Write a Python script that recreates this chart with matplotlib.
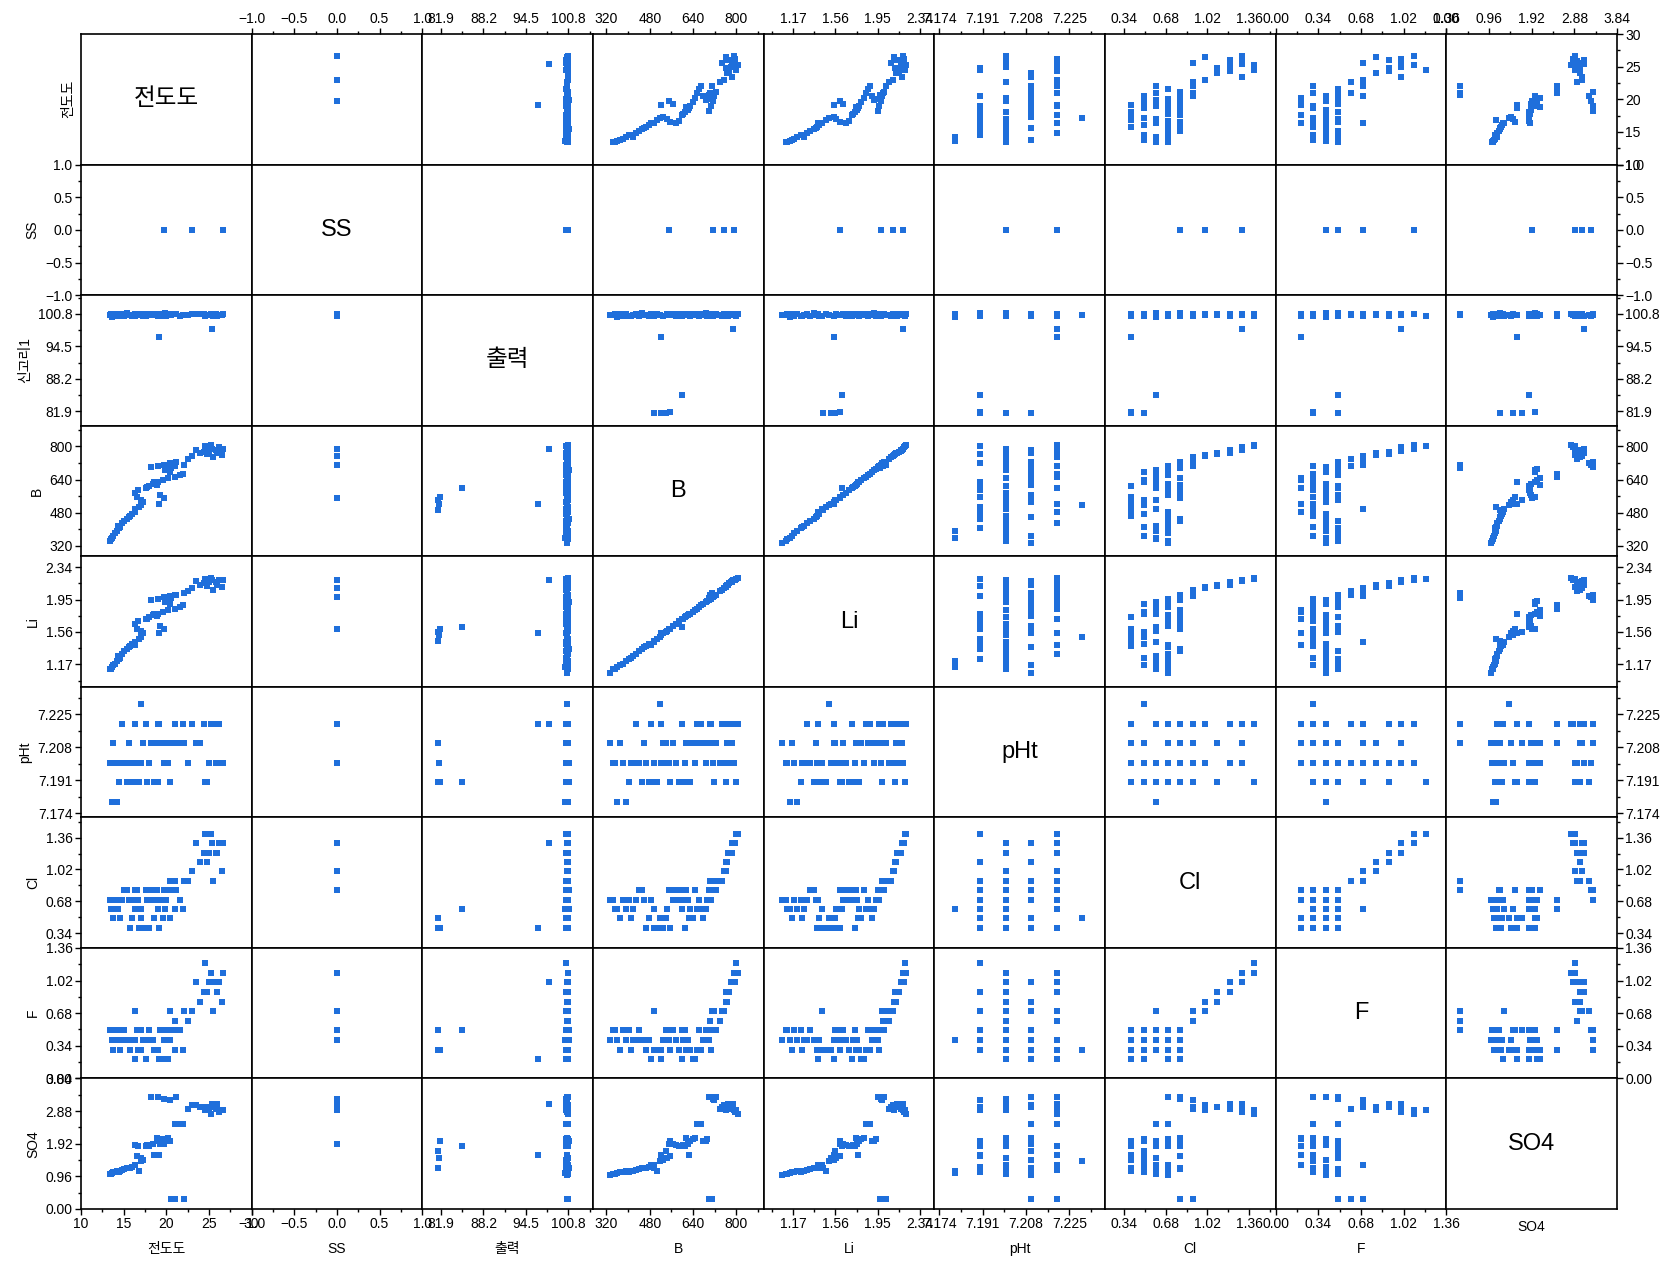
import numpy as np
import matplotlib
matplotlib.use("Agg")
import matplotlib.pyplot as plt
from matplotlib.ticker import MultipleLocator

plt.rcParams['font.family'] = ['Liberation Sans', 'Noto Sans CJK KR']

nan = np.nan

# variable names (diagonal), axis labels
names = ['전도도', 'SS', '출력', 'B', 'Li', 'pHt', 'Cl', 'F', 'SO4']
ylabels = ['전도도', 'SS', '신고리1', 'B', 'Li', 'pHt', 'Cl', 'F', 'SO4']
xlabels = ['전도도', 'SS', '출력', 'B', 'Li', 'pHt', 'Cl', 'F', 'SO4']

# one entry per sample
cond = [13.4, 13.6, 13.8, 14.0, 14.2, 14.5, 14.3, 14.8, 15.1, 15.4,
        15.8, 16.0, 16.3, 16.4, 16.8, 17.1, 17.3, 17.0, 16.6, 19.1,
        19.8, 19.3, 16.4, 16.7, 17.6, 18.0, 18.4, 19.0, 19.6, 20.2,
        21.0, 21.6, 22.0, 20.5, 19.9, 18.6,
        18.2, 19.0, 19.8, 20.5, 21.2, 20.6, 21.0, 22.1,
        22.6, 25.5, 23.0, 26.5, 24.0, 26.0, 24.4, 25.0, 23.5, 26.6,
        26.2, 24.5, 25.3, 25.4,
        nan, nan, nan, nan, nan,
        13.5, 14.6, 15.6, 17.8, 18.9, 20.0, 24.8, 25.8, nan]
ss = [nan] * 20 + [0.0] + [nan] * 17 + [0.0] + [nan] * 7 + [0.0] + [nan] * 6 + [0.0] + [nan] * 18
output = [100.6, 100.3, 100.7, 100.5, 100.8, 100.4, 100.6, 100.7, 100.5, 100.9,
          100.6, 100.4, 100.7, 100.5, 100.8, 100.6, 100.5, 100.7, 100.6, 96.3,
          100.6, 100.7, 100.5, 100.8, 100.4, 100.6, 100.7, 100.5, 100.8, 100.6,
          100.7, 100.5, 100.6, 100.7, 100.9, 100.6,
          100.6, 100.7, 100.5, 100.6, 100.7, 100.6, 100.7, 100.6,
          100.6, 100.5, 100.7, 100.6, 100.8, 100.5, 100.7, 100.6, 100.7, 100.8,
          100.6, 100.5, 100.7, 97.9,
          81.5, 81.6, 81.5, 81.7, 85.0,
          100.7, 100.5, 100.6, 100.7, 100.6, 100.5, 100.6, 100.7, 100.6]
boron = [345, 358, 370, 380, 392, 405, 418, 430, 442, 452,
         465, 476, 486, 497, 508, 518, 530, 542, 556, 521,
         552, 566, 576, 588, 598, 610, 620, 630, 638, 646,
         654, 660, 668, 678, 688, 626,
         700, 706, 712, 718, 726, 698, 704, 710,
         740, 748, 754, 760, 766, 770, 774, 778, 784, 790,
         796, 800, 806, 788,
         495, 520, 540, 556, 600,
         352, 412, 460, 602, 615, 692, 762, 782, 332]
li = [1.11, 1.14, 1.16, 1.18, 1.21, 1.24, 1.27, 1.30, 1.33, 1.36,
      1.39, 1.41, 1.40, 1.44, 1.47, 1.50, 1.55, 1.57, 1.60, 1.55,
      1.60, 1.63, 1.66, 1.69, 1.71, 1.74, 1.76, 1.78, 1.80, 1.82,
      1.84, 1.86, 1.88, 1.90, 1.92, 1.77,
      1.95, 1.96, 1.98, 1.99, 2.01, 1.97, 2.00, 2.03,
      2.05, 2.07, 2.09, 2.10, 2.12, 2.13, 2.15, 2.16, 2.17, 2.18,
      2.19, 2.20, 2.21, 2.18,
      1.45, 1.52, 1.56, 1.60, 1.62,
      1.12, 1.25, 1.38, 1.72, 1.75, 1.93, 2.11, 2.16, 1.07]
pht = [7.20, 7.18, 7.21, 7.20, 7.18, 7.19, 7.20, 7.22, 7.20, 7.19,
       7.20, 7.19, 7.22, 7.20, 7.19, 7.23, 7.21, 7.20, 7.19, 7.22,
       7.20, 7.21, 7.20, 7.19, 7.22, 7.20, 7.21, 7.19, 7.21, 7.20,
       7.22, 7.21, 7.22, 7.21, 7.20, 7.19,
       7.21, 7.22, 7.20, 7.19, 7.21, 7.21, 7.22, 7.21,
       7.20, 7.22, 7.22, 7.20, 7.21, 7.20, 7.22, 7.20, 7.21, 7.20,
       7.22, 7.19, 7.22, 7.22,
       7.19, 7.20, 7.21, 7.19, 7.19,
       7.20, 7.20, 7.21, 7.19, 7.21, 7.21, 7.19, 7.20, 7.21]
cl = [0.7, 0.6, 0.5, 0.7, 0.6, 0.7, 0.6, 0.7, 0.8, 0.8,
      0.4, 0.5, 0.7, 0.6, 0.4, 0.5, 0.4, 0.6, 0.8, 0.4,
      0.8, 0.7, 0.8, 0.7, 0.8, 0.4, 0.7, 0.6, 0.5, 0.8,
      0.6, 0.7, 0.6, 0.5, 0.6, 0.5,
      0.8, 0.7, 0.8, 0.9, 0.8, 0.8, 0.9, 0.9,
      0.9, 0.9, 1.0, 1.0, 1.1, 1.2, 1.2, 1.2, 1.3, 1.3,
      1.3, 1.4, 1.4, 1.3,
      0.4, 0.4, 0.5, 0.4, 0.6,
      0.6, 0.5, 0.7, 0.7, 0.8, 0.7, 1.1, 1.2, 0.7]
fl = [0.5, 0.4, 0.3, 0.5, 0.4, 0.5, 0.4, 0.4, 0.5, 0.4,
      0.3, 0.4, 0.2, 0.7, 0.3, 0.3, 0.4, 0.5, 0.5, 0.2,
      0.4, 0.5, 0.4, 0.3, 0.2, 0.5, 0.4, 0.3, 0.2, 0.2,
      0.3, 0.5, 0.3, 0.4, 0.5, 0.3,
      0.4, 0.3, 0.5, 0.7, 0.5, 0.5, 0.6, 0.7,
      0.6, 0.7, 0.7, 0.8, 0.8, 0.9, 0.9, 1.0, 1.0, 1.1,
      1.0, 1.2, 1.1, 1.0,
      0.3, 0.3, 0.5, 0.3, 0.5,
      0.5, 0.3, 0.4, 0.4, 0.3, 0.4, 0.9, 1.0, 0.4]
so4 = [1.02, 1.05, 1.08, 1.10, 1.12, 1.10, 1.13, 1.15, 1.18, 1.20,
       1.22, 1.25, 1.28, 1.30, 1.12, 1.40, 1.45, 1.50, 1.55, 1.60,
       1.92, 1.90, 1.88, 1.85, 1.85, 1.85, 1.90, 2.00, 2.05, 2.10,
       2.50, 2.50, 2.50, 2.00, 2.00, 1.60,
       3.30, 3.30, 3.25, 3.20, 3.30, 0.30, 0.30, 0.30,
       2.95, 3.00, 3.05, 2.90, 3.00, 3.10, 3.00, 2.95, 3.05, 2.90,
       2.85, 2.90, 2.80, 3.10,
       1.20, 1.50, 1.70, 2.00, 1.85,
       1.04, 1.12, 1.21, 1.88, 2.10, 2.05, 3.00, 2.95, 1.00]

# axis ranges and tick labels per variable
limits = [(10, 30), (-1, 1), (79.1, 104.45), (270, 900), (0.90, 2.47),
          (7.172, 7.239), (0.185, 1.575), (0, 1.36), (0, 3.84)]
ticks = [[10, 15, 20, 25, 30], [-1, -0.5, 0, 0.5, 1], [81.9, 88.2, 94.5, 100.8],
         [320, 480, 640, 800], [1.17, 1.56, 1.95, 2.34], [7.174, 7.191, 7.208, 7.225],
         [0.34, 0.68, 1.02, 1.36], [0, 0.34, 0.68, 1.02, 1.36], [0, 0.96, 1.92, 2.88, 3.84]]
ticklabels = [['10', '15', '20', '25', '30'], ['−1.0', '−0.5', '0.0', '0.5', '1.0'],
              ['81.9', '88.2', '94.5', '100.8'], ['320', '480', '640', '800'],
              ['1.17', '1.56', '1.95', '2.34'], ['7.174', '7.191', '7.208', '7.225'],
              ['0.34', '0.68', '1.02', '1.36'], ['0.00', '0.34', '0.68', '1.02', '1.36'],
              ['0.00', '0.96', '1.92', '2.88', '3.84']]
minor_step = [2.5, 0.25, 3.15, 80, 0.195, 0.0085, 0.17, 0.17, 0.48]

data = [cond, ss, output, boron, li, pht, cl, fl, so4]
data = [np.array(d, dtype=float) for d in data]
n = len(names)
blue = '#1f6fdb'

fig = plt.figure(figsize=(16.67, 12.62), dpi=100)
axes = fig.subplots(n, n, gridspec_kw=dict(hspace=0, wspace=0))
fig.subplots_adjust(left=0.0485, right=0.970, top=0.973, bottom=0.042)

for i in range(n):
    for j in range(n):
        ax = axes[i][j]
        if i == j:
            ax.text(0.5, 0.5, names[i], transform=ax.transAxes, ha='center',
                    va='center', fontsize=17)
        else:
            ax.plot(data[j], data[i], 's', ms=3.9, color=blue, mec=blue, mew=0)
        ax.set_xlim(limits[j])
        ax.set_ylim(limits[i])
        ax.set_xticks(ticks[j], ticklabels[j])
        ax.set_yticks(ticks[i], ticklabels[i])
        ax.xaxis.set_minor_locator(MultipleLocator(minor_step[j]))
        ax.yaxis.set_minor_locator(MultipleLocator(minor_step[i]))
        # only the outer edges get ticks
        ax.tick_params(which='both', direction='out', width=1, labelsize=10, pad=2,
                       top=(i == 0 and j > 0), labeltop=(i == 0 and j > 0),
                       bottom=(i == n - 1 and j < n - 1), labelbottom=(i == n - 1 and j < n - 1),
                       left=(j == 0 and i > 0), labelleft=(j == 0 and i > 0),
                       right=(j == n - 1 and i < n - 1), labelright=(j == n - 1 and i < n - 1))
        ax.tick_params(which='major', length=4)
        ax.tick_params(which='minor', length=2)
        for sp in ax.spines.values():
            sp.set_linewidth(1.2)
        if j == 0:
            ax.set_ylabel(ylabels[i], fontsize=10, labelpad=4)
        if i == n - 1:
            ax.set_xlabel(xlabels[j], fontsize=10, labelpad=8)

plt.savefig('out.png', dpi=100)
